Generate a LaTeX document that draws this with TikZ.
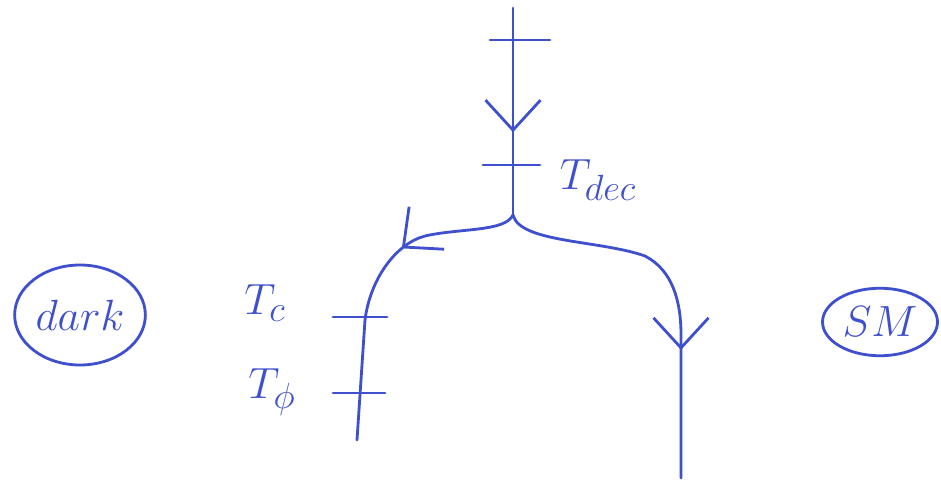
\documentclass[tikz,border=0pt]{standalone}
\usetikzlibrary{arrows.meta,positioning,shapes.geometric,decorations.markings}
\definecolor{ink}{RGB}{62,80,205}

\begin{document}
\begin{tikzpicture}[x=0.2mm, y=-0.2mm, color=ink, line width=1.6pt, line cap=round,
	   blob/.style={draw, ellipse, inner sep=1pt, font=\fontsize{30}{34}\selectfont},
	   lbl/.style={font=\fontsize{30}{34}\selectfont},
	   cross/.style={line width=1.6pt},
	   midarrow/.style={postaction={decorate}, decoration={markings,
	     mark=at position #1 with {\arrow{Straight Barb[length=6mm,width=11mm,line width=1.6pt]}}}}]
	  \useasboundingbox (0,0) rectangle (941,480);
	  % sectors
	  \node[blob, minimum width=26mm, minimum height=20mm] (dark) at (80,315) {$dark$};
	  \node[blob, minimum width=23mm, minimum height=13.5mm] (SM) at (880,322) {$SM$};
	  % trunk and branches
	  \coordinate (top) at (513,8);
	  \coordinate (split) at (513,215);
	  \coordinate (lend) at (357,440);
	  \coordinate (rend) at (681,478);
	  \draw[midarrow=0.6] (top) -- (split);
	  \draw[midarrow=0.37] (split) .. controls (505,232) and (460,228) .. (425,236)
	        .. controls (395,244) and (370,280) .. (365,320) -- (lend);
	  \draw[midarrow=0.66] (split) .. controls (520,243) and (600,240) .. (645,256)
	        .. controls (672,270) and (681,300) .. (681,335) -- (rend);
	  % temperatures
	  \draw[cross] (490,40) -- (550,40);
	  \draw[cross] (483,165) -- (540,165);
	  \draw[cross] (333,317) -- (387,317);
	  \draw[cross] (333,393) -- (385,393);
	  \node[lbl] (Tdec) at (598,180) {$T_{dec}$};
	  \node[lbl] (Tc) at (265,303) {$T_c$};
	  \node[lbl] (Tphi) at (272,392) {$T_\phi$};
	\end{tikzpicture}
\end{document}
